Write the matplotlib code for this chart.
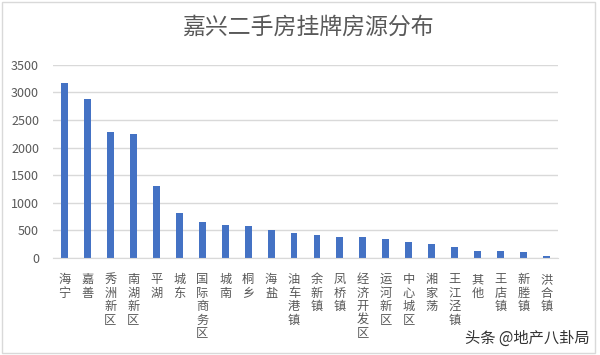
import matplotlib.pyplot as plt
from matplotlib.patches import Rectangle

plt.rcParams['font.family'] = ['Noto Sans CJK SC', 'DejaVu Sans']

# data
districts = ["海宁", "嘉善", "秀洲新区", "南湖新区", "平湖", "城东", "国际商务区", "城南",
             "桐乡", "海盐", "油车港镇", "余新镇", "凤桥镇", "经济开发区", "运河新区",
             "中心城区", "湘家荡", "王江泾镇", "其他", "王店镇", "新塍镇", "洪合镇"]
listings = [3170, 2880, 2290, 2240, 1300, 820, 657, 605, 585, 512, 447,
            422, 374, 372, 338, 284, 259, 194, 127, 125, 103, 36]
y_ticks = [0, 500, 1000, 1500, 2000, 2500, 3000, 3500]

BAR_COLOR  = "#4472C4"
TEXT_COLOR = "#595959"
GRID_COLOR = "#D9D9D9"

fig = plt.figure(figsize=(6.0, 3.55), dpi=100)
ax = fig.add_axes([53 / 600, 1 - 258 / 355, 505 / 600, 193.3 / 355])

x = range(len(districts))
ax.bar(x, listings, width=0.3, color=BAR_COLOR, zorder=3)

ax.set_xlim(-0.5, len(districts) - 0.5)
ax.set_ylim(0, 3500)
ax.set_yticks(y_ticks)
ax.set_yticklabels([str(v) for v in y_ticks], fontsize=9, color=TEXT_COLOR)
ax.tick_params(axis="y", length=0, pad=10)
ax.yaxis.grid(True, color=GRID_COLOR, linewidth=1, zorder=0)

# vertical stacked category labels
ax.set_xticks(list(x))
ax.set_xticklabels(["\n".join(d) for d in districts], fontsize=8.8,
                   color=TEXT_COLOR, linespacing=1.05, va="top")
ax.tick_params(axis="x", length=0, pad=11)

for side in ["top", "right", "left"]:
    ax.spines[side].set_visible(False)
ax.spines["bottom"].set_color(GRID_COLOR)
ax.spines["bottom"].set_zorder(4)

fig.text(308 / 600, 1 - 27 / 355, "嘉兴二手房挂牌房源分布", ha="center", va="center",
         fontsize=16.5, color=TEXT_COLOR)

# chart frame
fig.patches.append(Rectangle((2 / 600, 2 / 355), 593 / 600, 351 / 355,
                             transform=fig.transFigure, fill=False,
                             edgecolor="#D9D9D9", linewidth=1))

# watermark
fig.text(590 / 600, 1 - 338 / 355, "头条 @地产八卦局", ha="right", va="center",
         fontsize=11, color="#333333")

fig.savefig("out.png", dpi=100, facecolor="white")
